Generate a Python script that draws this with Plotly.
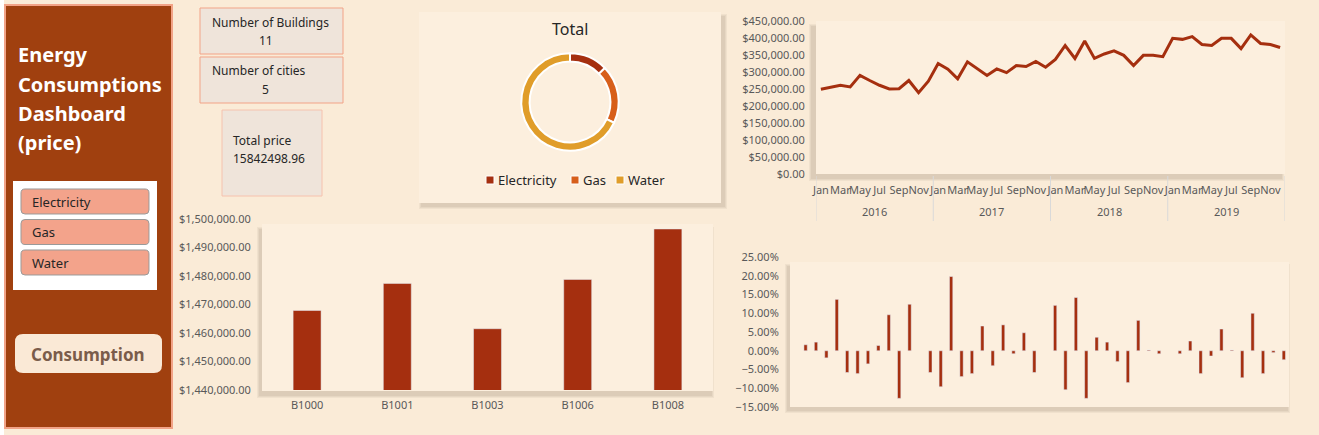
import plotly.graph_objects as go

W, H = 1319, 435
FONT = "Noto Sans"
PAGE_BG = "#FAEBD7"
CARD_BG = "#FCEFDE"
BROWN = "#A0400F"
RED = "#A52F0F"
TICK_GREY = "#595959"
DARK = "#262626"

# ---- data ----
n_buildings = 11
n_cities = 5
total_price = 15842498.96

energy_types = ["Electricity", "Gas", "Water"]
energy_share = [12.7, 19.3, 68.0]
energy_colors = ["#A52F0F", "#D75F1B", "#E09D2A"]

month_names = ["Jan", "Feb", "Mar", "Apr", "May", "Jun",
               "Jul", "Aug", "Sep", "Oct", "Nov", "Dec"]
month_labels = month_names * 4
year_labels = [2016] * 12 + [2017] * 12 + [2018] * 12 + [2019] * 12
monthly_price = [
    249000, 254000, 261000, 256000, 290000, 275000, 261000, 250000, 251000, 275000, 239000, 273000,
    325000, 308000, 280000, 330000, 309000, 290000, 309000, 298000, 319000, 316000, 331000, 314000,
    337000, 378000, 340000, 391000, 340000, 353000, 362000, 349000, 319000, 349000, 349000, 345000,
    399000, 396000, 404000, 381000, 378000, 399000, 399000, 369000, 409000, 384000, 381000, 372000,
]
monthly_change = [
    None, 0.016, 0.023, -0.019, 0.137, -0.058, -0.061, -0.035, 0.014, 0.096, -0.127, 0.124,
    None, -0.058, -0.096, 0.198, -0.069, -0.061, 0.066, -0.040, 0.069, -0.008, 0.048, -0.058,
    None, 0.121, -0.104, 0.142, -0.127, 0.036, 0.023, -0.029, -0.085, 0.081, 0.002, -0.008,
    None, -0.008, 0.026, -0.061, -0.014, 0.058, 0.002, -0.072, 0.100, -0.061, -0.005, -0.024,
]

buildings = ["B1000", "B1001", "B1003", "B1006", "B1008"]
building_price = [1467900, 1477400, 1461500, 1478800, 1496500]

menu_items = ["Electricity", "Gas", "Water"]
title_lines = ["Energy", "Consumptions", "Dashboard", "(price)"]


def X(px):
    return px / W


def Y(py):
    return 1 - py / H


# plot areas in pixels (x0, y0, x1, y1)
LINE_BOX = (816, 21, 1285, 174)
BLD_BOX = (262, 219, 713, 390)
PCT_BOX = (790, 257, 1289, 407)
DONUT_CARD = (419, 12, 721, 203)
# visible card behind each plot (a bit lower than the top tick for two of them)
LINE_CARD = (816, 21, 1285, 174)
BLD_CARD = (262, 224, 713, 391)
PCT_CARD = (790, 262, 1289, 407)

shapes = []
annotations = []


def rect(x0, y0, x1, y1, fill, line=None, width=0):
    shapes.append(dict(type="rect", xref="paper", yref="paper",
                       x0=X(x0), y0=Y(y1), x1=X(x1), y1=Y(y0),
                       fillcolor=fill, line=dict(color=line or fill, width=width),
                       layer="below"))


def round_rect(x0, y0, x1, y1, r, fill, line=None, width=0):
    pts = [
        ("M", x0 + r, y0), ("L", x1 - r, y0), ("Q", x1, y0, x1, y0 + r),
        ("L", x1, y1 - r), ("Q", x1, y1, x1 - r, y1), ("L", x0 + r, y1),
        ("Q", x0, y1, x0, y1 - r), ("L", x0, y0 + r), ("Q", x0, y0, x0 + r, y0),
    ]
    path = ""
    for p in pts:
        cmd, coords = p[0], p[1:]
        parts = []
        for i in range(0, len(coords), 2):
            parts.append(f"{X(coords[i]):.5f},{Y(coords[i + 1]):.5f}")
        path += cmd + " " + " ".join(parts) + " "
    shapes.append(dict(type="path", xref="paper", yref="paper", path=path + "Z",
                       fillcolor=fill, line=dict(color=line or fill, width=width),
                       layer="below"))


def shadow(box, dx, dy):
    x0, y0, x1, y1 = box
    for k, a in enumerate([0.05, 0.05, 0.06]):
        g = 3 - k
        rect(x0 + dx - g, y0 + dy - g + 2, x1 + dx + g, y1 + dy + g, f"rgba(60,40,20,{a})")


def text(x, y, s, size=13, color=DARK, anchor="left"):
    annotations.append(dict(x=X(x), y=Y(y), xref="paper", yref="paper", text=s,
                            showarrow=False, xanchor=anchor, yanchor="middle",
                            font=dict(family=FONT, size=size, color=color)))


# page strip on the far left (sheet grid)
rect(0, 0, 4, H, "#FFFFFF")

# left panel
rect(5, 5, 172, 428, BROWN, "#F2A387", 2)
for i, line in enumerate(title_lines):
    text(16, 55 + i * 29.3, f"<b>{line}</b>", size=20, color="#FFFFFF")
rect(13, 181, 157, 290, "#FFFFFF")
for i, item in enumerate(menu_items):
    top = 189 + i * 30.5
    round_rect(21, top, 149, top + 25, 4, "#F3A38B", "#9A9A9A", 1)
    text(30, top + 13, item, size=13)
round_rect(15, 334, 162, 373, 8, "#FAE9D6")
text(88, 354, "<b>Consumption</b>", size=17, color="#7A5C4A", anchor="center")

# KPI boxes
rect(200, 8, 343, 54, "#EFE4DA", "#F2A387", 1)
text(210, 22, "Number of Buildings", size=12)
text(266, 40, str(n_buildings), size=12, anchor="center")
rect(200, 57, 343, 103, "#EFE4DA", "#F2A387", 1)
text(210, 71, "Number of cities", size=12)
text(265, 89, str(n_cities), size=12, anchor="center")
rect(222, 110, 322, 196, "#EFE4DA", "#F6C2AE", 1)
text(231, 140, "Total price", size=12)
text(231, 158, f"{total_price:.2f}", size=12)

# donut card
shadow(DONUT_CARD, 3, 3)
rect(*DONUT_CARD, CARD_BG)
text(570, 29, "Total", size=16, anchor="center")
legend_x = [486, 571, 616]
for lx, name, col in zip(legend_x, energy_types, energy_colors):
    rect(lx, 176, lx + 8, 184, col, "#FFFFFF", 1)
    text(lx + 10, 180, name, size=13)

# chart cards
for box, dx, dy in [(LINE_CARD, -4, 4), (BLD_CARD, -2, 4), (PCT_CARD, -2, 3)]:
    shadow(box, dx, dy)
    rect(*box, CARD_BG)

fig = go.Figure()

idx = list(range(len(monthly_price)))
fig.add_trace(go.Scatter(
    x=idx, y=monthly_price, mode="lines",
    line=dict(color=RED, width=3), xaxis="x", yaxis="y",
    showlegend=False, hoverinfo="skip",
))
fig.add_trace(go.Bar(
    x=buildings, y=building_price, marker_color=RED, width=0.31,
    xaxis="x2", yaxis="y2", showlegend=False, hoverinfo="skip",
))
fig.add_trace(go.Bar(
    x=idx, y=monthly_change, marker_color=RED, width=0.32,
    xaxis="x3", yaxis="y3", showlegend=False, hoverinfo="skip",
))
cx, cy, r = 570, 102, 48.7
fig.add_trace(go.Pie(
    labels=energy_types, values=energy_share, hole=0.83, sort=False,
    direction="clockwise", rotation=0, textinfo="none", showlegend=False,
    marker=dict(colors=energy_colors, line=dict(color="#FFFFFF", width=2)),
    domain=dict(x=[X(cx - r), X(cx + r)], y=[Y(cy + r), Y(cy - r)]),
    hoverinfo="skip",
))

# year grouping under the monthly line
odd_ticks = [i for i, m in enumerate(month_labels) if month_names.index(m) % 2 == 0]
boundaries = [-0.5]
for i in range(1, len(year_labels)):
    if year_labels[i] != year_labels[i - 1]:
        boundaries.append(i - 0.5)
boundaries.append(len(year_labels) - 0.5)
for b in boundaries:
    shapes.append(dict(type="line", xref="x", yref="paper", x0=b, x1=b,
                       y0=Y(221), y1=Y(176), line=dict(color="#D9D9D9", width=1)))
for yr in sorted(set(year_labels)):
    pos = [i for i, v in enumerate(year_labels) if v == yr]
    annotations.append(dict(x=sum(pos) / len(pos), y=Y(212), xref="x", yref="paper",
                            text=str(yr), showarrow=False, yanchor="middle",
                            font=dict(family=FONT, size=11, color=TICK_GREY)))

tickfont = dict(family=FONT, size=11, color=TICK_GREY)
hidden = dict(showgrid=False, zeroline=False, showline=False, fixedrange=True,
              automargin=False, ticks="outside", tickcolor="rgba(0,0,0,0)",
              tickfont=tickfont)

fig.update_layout(
    width=W, height=H, autosize=False,
    margin=dict(l=0, r=0, t=0, b=0, pad=0, autoexpand=False),
    paper_bgcolor=PAGE_BG, plot_bgcolor="rgba(0,0,0,0)",
    font=dict(family=FONT, color=DARK),
    showlegend=False,
    xaxis=dict(domain=[X(LINE_BOX[0]), X(LINE_BOX[2])], anchor="y",
               range=[-0.5, len(idx) - 0.5], tickvals=odd_ticks, tickangle=0,
               ticktext=[month_labels[i] for i in odd_ticks], ticklen=6, **hidden),
    yaxis=dict(domain=[Y(LINE_BOX[3]), Y(LINE_BOX[1])], anchor="x",
               range=[0, 450000], dtick=50000, tickformat="$,.2f", ticklen=8, **hidden),
    xaxis2=dict(domain=[X(BLD_BOX[0]), X(BLD_BOX[2])], anchor="y2",
                type="category", ticklen=5, tickangle=0, **hidden),
    yaxis2=dict(domain=[Y(BLD_BOX[3]), Y(BLD_BOX[1])], anchor="x2",
                range=[1440000, 1500000], dtick=10000, tickformat="$,.2f", ticklen=8, **hidden),
    xaxis3=dict(domain=[X(PCT_BOX[0]), X(PCT_BOX[2])], anchor="y3",
                range=[-0.5, len(idx) - 0.5], showticklabels=False, **hidden),
    yaxis3=dict(domain=[Y(PCT_BOX[3]), Y(PCT_BOX[1])], anchor="x3",
                range=[-0.15, 0.25], dtick=0.05, tickformat=".2%", ticklen=8, **hidden),
    shapes=shapes,
    annotations=annotations,
)

fig.write_html("out.html", config={"displayModeBar": False},
               post_script="document.body.style.margin='0';document.body.style.background='#FAEBD7';")
